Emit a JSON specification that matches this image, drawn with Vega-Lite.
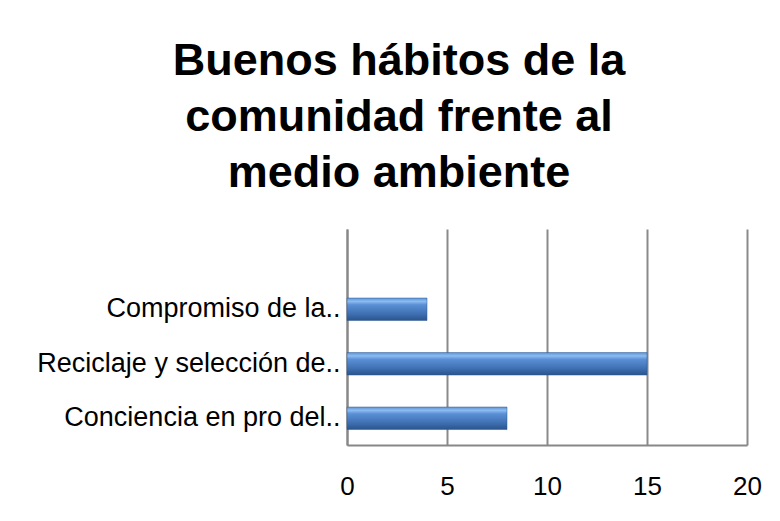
{
  "$schema": "https://vega.github.io/schema/vega-lite/v6.json",
  "autosize": "none",
  "width": 400,
  "height": 216,
  "padding": {"left": 347, "top": 229, "right": 33, "bottom": 76},
  "background": "white",
  "title": {
    "text": ["Buenos hábitos de la", "comunidad frente al", "medio ambiente"],
    "font": "Liberation Sans",
    "fontSize": 45,
    "fontWeight": "bold",
    "color": "black",
    "lineHeight": 56,
    "anchor": "middle",
    "frame": "group",
    "dx": -148,
    "offset": 33
  },
  "data": {
    "values": [
      {"habito": "Conciencia en pro del..", "valor": 8},
      {"habito": "Reciclaje y selección de..", "valor": 15},
      {"habito": "Compromiso de la..", "valor": 4}
    ]
  },
  "mark": {
    "type": "bar",
    "fill": {
      "gradient": "linear",
      "x1": 0, "y1": 0, "x2": 0, "y2": 1,
      "stops": [
        {"offset": 0, "color": "#5e93d8"},
        {"offset": 0.15, "color": "#8cbcf0"},
        {"offset": 0.3, "color": "#5b90d6"},
        {"offset": 0.75, "color": "#3c6cae"},
        {"offset": 1, "color": "#2a538a"}
      ]
    },
    "stroke": "#2f5a92",
    "strokeWidth": 0.5
  },
  "encoding": {
    "y": {
      "field": "habito",
      "type": "nominal",
      "sort": ["Compromiso de la..", "Reciclaje y selección de..", "Conciencia en pro del.."],
      "scale": {"paddingInner": 0.587, "paddingOuter": 0.775, "align": 0.817},
      "axis": {
        "title": null,
        "ticks": false,
        "domain": true,
        "domainColor": "#878787",
        "domainWidth": 2,
        "labelFont": "Liberation Sans",
        "labelFontSize": 27,
        "labelColor": "black",
        "labelPadding": 7,
        "labelLimit": 400
      }
    },
    "x": {
      "field": "valor",
      "type": "quantitative",
      "scale": {"domain": [0, 20], "nice": false},
      "axis": {
        "title": null,
        "values": [0, 5, 10, 15, 20],
        "ticks": false,
        "grid": true,
        "gridColor": "#8a8a8a",
        "gridWidth": 2,
        "domain": true,
        "domainColor": "#878787",
        "domainWidth": 2,
        "labelFont": "Liberation Sans",
        "labelFontSize": 26,
        "labelColor": "black",
        "labelPadding": 28,
        "labelFlush": false
      }
    }
  },
  "config": {
    "view": {"stroke": null}
  }
}
